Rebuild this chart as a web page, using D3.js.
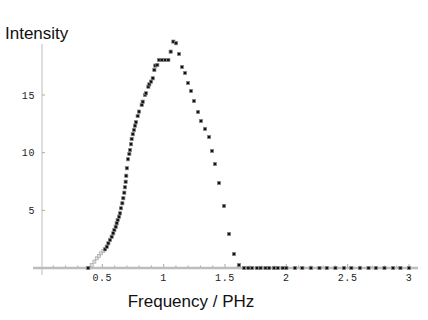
<!DOCTYPE html>
<html>
<head>
<meta charset="utf-8">
<script src="https://cdn.jsdelivr.net/npm/d3@7"></script>
<style>
  body { margin: 0; background: #fff; }
  svg { display: block; }
</style>
</head>
<body>
<div id="chart"></div>
<script>
// dark points (frequency in PHz, intensity)
var darkFreq = [0.385, 0.522, 0.536, 0.549, 0.562, 0.576, 0.589, 0.598, 0.609, 0.617,
  0.625, 0.636, 0.644, 0.652, 0.663, 0.671, 0.679, 0.684, 0.690, 0.695,
  0.700, 0.709, 0.720, 0.726, 0.734, 0.739, 0.748, 0.758, 0.766, 0.774,
  0.788, 0.799, 0.821, 0.829, 0.848, 0.856, 0.875, 0.883, 0.897, 0.911,
  0.924, 0.932, 0.948, 0.962, 0.984, 1.011, 1.038, 1.057, 1.079, 1.101,
  1.125, 1.149, 1.174, 1.198, 1.223, 1.247, 1.280, 1.304, 1.337, 1.370,
  1.394, 1.418, 1.451, 1.492, 1.533, 1.573, 1.614, 1.655,
  1.69, 1.72, 1.76, 1.79, 1.83, 1.86, 1.90, 1.93, 1.97, 2.00,
  2.07, 2.13, 2.20, 2.27, 2.33, 2.40, 2.47, 2.53, 2.60, 2.67,
  2.73, 2.80, 2.87, 2.93, 3.00];
var darkInt = [0, 1.62, 1.85, 2.14, 2.43, 2.71, 3.01, 3.30, 3.58, 3.88,
  4.16, 4.45, 4.74, 5.18, 5.61, 6.05, 6.53, 7.0, 7.48, 8.0,
  8.65, 9.43, 9.89, 10.23, 10.73, 11.19, 11.6, 11.97, 12.34, 12.64,
  13.18, 13.56, 14.14, 14.42, 15.0, 15.15, 15.72, 15.93, 16.16, 16.45,
  17.17, 17.55, 17.6, 18.04, 18.04, 18.04, 18.04, 18.76, 19.63, 19.49,
  18.56, 17.43, 16.91, 16.04, 15.35, 14.48, 13.53, 12.75, 12.06, 11.36,
  10.15, 9.02, 7.37, 5.38, 2.95, 1.21, 0.26, 0,
  0, 0, 0, 0, 0, 0, 0, 0, 0, 0,
  0, 0, 0, 0, 0, 0, 0, 0, 0, 0,
  0, 0, 0, 0, 0];

// light grey points near the onset
var greyFreq = [0.413, 0.435, 0.454, 0.473, 0.489, 0.508];
var greyInt = [0.26, 0.55, 0.84, 1.04, 1.27, 1.47];

var xTicks = [0.5, 1, 1.5, 2, 2.5, 3];
var yTicks = [5, 10, 15];

var width = 428, height = 320;

var x = d3.scaleLinear().domain([0, 3]).range([41, 409]);
var y = d3.scaleLinear().domain([0, 15]).range([268, 95]);

var svg = d3.select("#chart").append("svg")
  .attr("width", width)
  .attr("height", height);

// axes lines
svg.append("line")
  .attr("x1", x(0) + 1).attr("x2", x(0) + 1)
  .attr("y1", 44).attr("y2", y(0) + 7)
  .attr("stroke", "#bdbdbd").attr("stroke-width", 1);

svg.append("line")
  .attr("x1", 33).attr("x2", 418)
  .attr("y1", y(0)).attr("y2", y(0))
  .attr("stroke", "#bdbdbd").attr("stroke-width", 2.5);

// minor ticks on x
svg.append("g").selectAll("line")
  .data(d3.range(1, 31).map(function (d) { return d / 10; }))
  .join("line")
  .attr("x1", function (d) { return x(d); })
  .attr("x2", function (d) { return x(d); })
  .attr("y1", y(0) - 1)
  .attr("y2", function (d) { return xTicks.indexOf(d) >= 0 ? y(0) - 4 : y(0) - 2.5; })
  .attr("stroke", "#aaa").attr("stroke-width", 1);

// y ticks
svg.append("g").selectAll("line")
  .data(yTicks)
  .join("line")
  .attr("x1", x(0) + 1)
  .attr("x2", x(0) + 4)
  .attr("y1", function (d) { return y(d); })
  .attr("y2", function (d) { return y(d); })
  .attr("stroke", "#aaa").attr("stroke-width", 1);

// tick labels
svg.append("g").selectAll("text")
  .data(xTicks)
  .join("text")
  .attr("x", function (d) { return x(d); })
  .attr("y", 281)
  .attr("text-anchor", "middle")
  .attr("font-family", "Liberation Mono, monospace")
  .attr("font-size", 10)
  .attr("letter-spacing", 0.6)
  .attr("fill", "#222")
  .text(function (d) { return d; });

svg.append("g").selectAll("text")
  .data(yTicks)
  .join("text")
  .attr("x", 35)
  .attr("y", function (d) { return y(d) + 3.5; })
  .attr("text-anchor", "end")
  .attr("font-family", "Liberation Mono, monospace")
  .attr("font-size", 10)
  .attr("letter-spacing", 0.6)
  .attr("fill", "#222")
  .text(function (d) { return d; });

// axis titles
svg.append("text")
  .attr("x", 5).attr("y", 39)
  .attr("font-family", "Liberation Sans, Arial, sans-serif")
  .attr("font-size", 17)
  .attr("fill", "#111")
  .text("Intensity");

svg.append("text")
  .attr("x", 191).attr("y", 307)
  .attr("text-anchor", "middle")
  .attr("font-family", "Liberation Sans, Arial, sans-serif")
  .attr("font-size", 17)
  .attr("fill", "#111")
  .text("Frequency / PHz");

// points
var grey = greyFreq.map(function (f, i) { return [f, greyInt[i]]; });
svg.append("g").selectAll("rect")
  .data(grey)
  .join("rect")
  .attr("x", function (d) { return x(d[0]) - 1.5; })
  .attr("y", function (d) { return y(d[1]) - 1.5; })
  .attr("width", 3).attr("height", 3)
  .attr("fill", "#e0e0e0")
  .attr("stroke", "#a8a8a8").attr("stroke-width", 0.7);

var dark = darkFreq.map(function (f, i) { return [f, darkInt[i]]; });
svg.append("g").selectAll("rect")
  .data(dark)
  .join("rect")
  .attr("x", function (d) { return x(d[0]) - 1.6; })
  .attr("y", function (d) { return y(d[1]) - 1.6; })
  .attr("width", 3.2).attr("height", 3.2)
  .attr("fill", "#111")
  .attr("stroke", "#888").attr("stroke-width", 0.7);
</script>
</body>
</html>
